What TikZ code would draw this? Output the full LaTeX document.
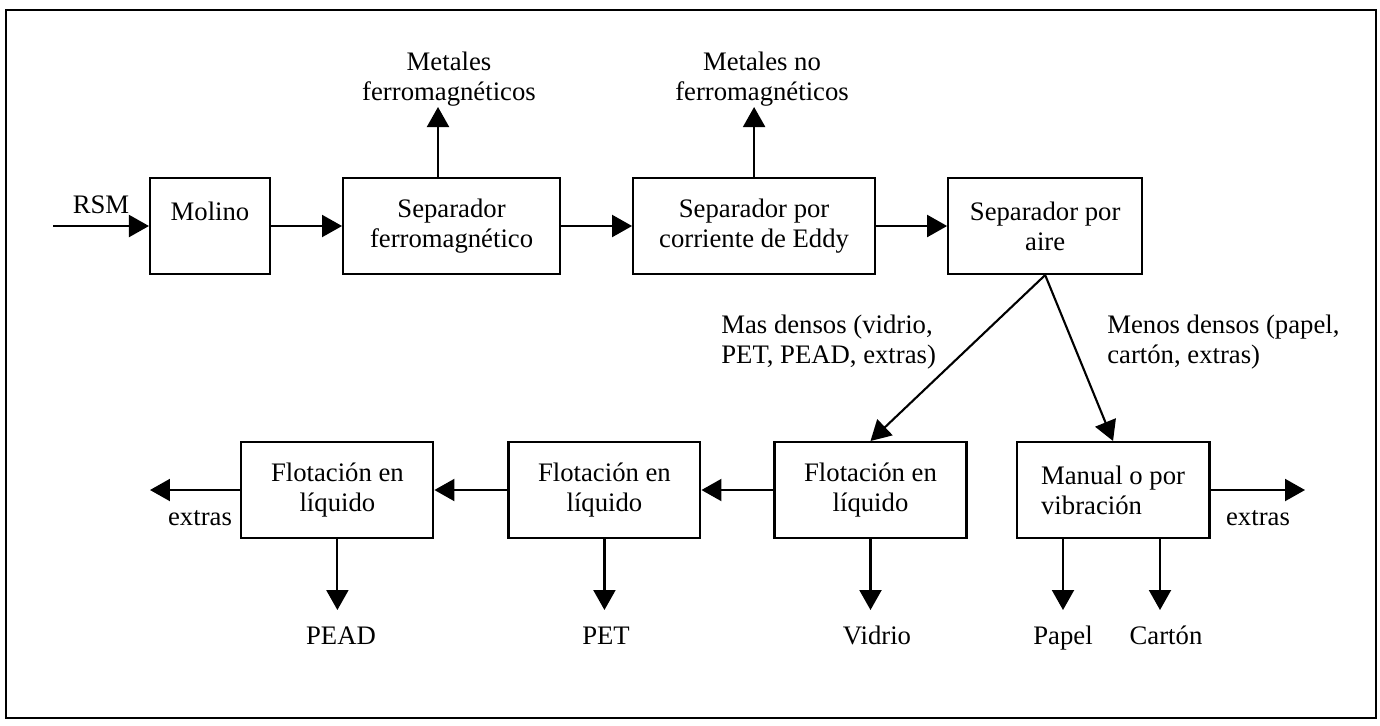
\documentclass[tikz,border=0pt]{standalone}
\usepackage{fontspec}
\setmainfont{Liberation Serif}
\usetikzlibrary{arrows.meta, positioning}
\tikzstyle{box} = [rectangle, draw=black, line width=1.2pt, minimum height=1.92cm, inner sep=0pt, align=center, font=\fontsize{15.2}{17.1}\selectfont]
\tikzstyle{etiq} = [inner sep=0pt, align=center, font=\fontsize{15.2}{17.1}\selectfont]
\tikzstyle{flecha} = [line width=1.2pt, -{Triangle[length=0.4cm, width=0.44cm]}]

\begin{document}
\begin{tikzpicture}[x=0.02cm, y=-0.02cm, node distance=1.42cm]
    \useasboundingbox (0,0) rectangle (1380,725);
    \draw[line width=1.4pt] (6,10) rectangle (1376,718);

    % fila superior
    \node (mol) [box, minimum width=2.4cm] at (210,226) {Molino\\~};
    \node (sfe) [box, minimum width=4.34cm, right=of mol] {Separador\\ferromagnético};
    \node (sed) [box, minimum width=4.84cm, right=of sfe] {Separador por\\corriente de Eddy};
    \node (sai) [box, minimum width=3.88cm, right=of sed] {Separador por\\aire};

    % fila inferior
    \node (fvi) [box, minimum width=3.84cm] at (870.5,490) {Flotación en\\líquido};
    \node (fpet) [box, minimum width=3.84cm, left=1.44cm of fvi] {Flotación en\\líquido};
    \node (fpead) [box, minimum width=3.84cm, left=1.46cm of fpet] {Flotación en\\líquido};
    \node (man) [box, minimum width=3.86cm, align=left, right=0.96cm of fvi] {Manual o por\\vibración};

    % textos
    \node (rsm) [etiq, anchor=base] at (101,213) {RSM};
    \node (lmf) [etiq] at (449,79) {Metales\\ferromagnéticos};
    \node (lmn) [etiq] at (762,79) {Metales no\\ferromagnéticos};
    \node (lmas) [etiq, anchor=west, align=left] at (721,342) {Mas densos (vidrio,\\PET, PEAD, extras)};
    \node (lmen) [etiq, anchor=west, align=left] at (1107,342) {Menos densos (papel,\\cartón, extras)};
    \node (lex1) [etiq, anchor=base] at (200,525) {extras};
    \node (lex2) [etiq, anchor=base] at (1258,525) {extras};
    \node (lpead) [etiq, anchor=base] at (341,644) {PEAD};
    \node (lpet) [etiq, anchor=base] at (606,644) {PET};
    \node (lvid) [etiq, anchor=base] at (877,644) {Vidrio};
    \node (lpap) [etiq, anchor=base] at (1063,644) {Papel};
    \node (lcar) [etiq, anchor=base] at (1166,644) {Cartón};

    % extremos libres
    \coordinate (ent) at (53,226);
    \coordinate (umf) at (438,107);
    \coordinate (umn) at (750,107);
    \coordinate (uex1) at (150,490);
    \coordinate (uex2) at (1305,490);
    \coordinate (uabajo) at (0,610);
    \coordinate (upap) at (1063,610);
    \coordinate (ucar) at (1160,610);

    \draw [flecha] (ent) -- (mol);
    \draw [flecha] (mol) -- (sfe);
    \draw [flecha] (sfe) -- (sed);
    \draw [flecha] (sed) -- (sai);
    \draw [flecha] (sfe.north -| umf) -- (umf);
    \draw [flecha] (sed.north) -- (sed.north |- umn);
    \draw [flecha] (sai.south) -- (fvi.north);
    \draw [flecha] (sai.south) -- (man.north);
    \draw [flecha] (fvi) -- (fpet);
    \draw [flecha] (fpet) -- (fpead);
    \draw [flecha] (fpead) -- (uex1);
    \draw [flecha] (man) -- (uex2);
    \draw [flecha] (fpead.south) -- (fpead.south |- uabajo);
    \draw [flecha] (fpet.south) -- (fpet.south |- uabajo);
    \draw [flecha] (fvi.south) -- (fvi.south |- uabajo);
    \draw [flecha] (man.south -| upap) -- (upap);
    \draw [flecha] (man.south -| ucar) -- (ucar);
\end{tikzpicture}
\end{document}
